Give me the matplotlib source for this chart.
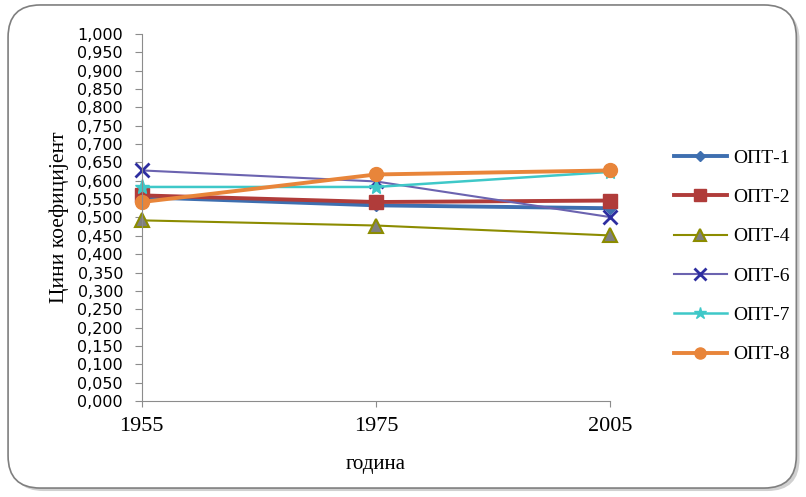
import numpy as np
import matplotlib.pyplot as plt
from matplotlib.patches import FancyBboxPatch

godine = ['1955', '1975', '2005']
serije = ['ОПТ-1', 'ОПТ-2', 'ОПТ-4', 'ОПТ-6', 'ОПТ-7', 'ОПТ-8']
opt1 = [0.555, 0.533, 0.525]
opt2 = [0.560, 0.542, 0.546]
opt4 = [0.492, 0.478, 0.451]
opt6 = [0.628, 0.598, 0.501]
opt7 = [0.583, 0.583, 0.624]
opt8 = [0.542, 0.617, 0.628]

serif = 'Liberation Serif'

fig = plt.figure(figsize=(8.06, 4.97), dpi=100)

# okvir grafika sa senkom
senka = FancyBboxPatch((0.014, 0.012), 0.978, 0.972, boxstyle='round,pad=0,rounding_size=0.04',
                       transform=fig.transFigure, facecolor='#d0d0d0', edgecolor='none', zorder=-2,
                       mutation_aspect=806/497)
okvir = FancyBboxPatch((0.010, 0.018), 0.978, 0.972, boxstyle='round,pad=0,rounding_size=0.04',
                       transform=fig.transFigure, facecolor='white', edgecolor='#7f7f7f', lw=1.2, zorder=-1,
                       mutation_aspect=806/497)
fig.patches.extend([senka, okvir])

ax = fig.add_axes([0.176, 0.193, 0.581, 0.739])
ax.set_zorder(2)
ax.patch.set_alpha(0)
x = np.arange(len(godine))

stilovi = [
    (opt1, dict(color='#3e6fb0', lw=2.8, marker='D', ms=6.5, mfc='#3e6fb0', mec='#3e6fb0')),
    (opt2, dict(color='#b03c3a', lw=2.8, marker='s', ms=10, mfc='#b03c3a', mec='#b03c3a')),
    (opt4, dict(color='#8c8c00', lw=1.5, marker='^', ms=10, mfc='#808080', mec='#8c8c00', mew=1.5)),
    (opt6, dict(color='#6b63b0', lw=1.5, marker='x', ms=10, mfc='#2e2ea0', mec='#2e2ea0', mew=2)),
    (opt7, dict(color='#3ec8c8', lw=1.8, marker='*', ms=11, mfc='#3ec8c8', mec='#3ec8c8')),
    (opt8, dict(color='#e8853a', lw=2.8, marker='o', ms=10, mfc='#e8853a', mec='#e8853a')),
]
for (vr, st), ime in zip(stilovi, serije):
    ax.plot(x, vr, label=ime, clip_on=False, **st)

ax.set_xlim(0, 2)
ax.set_ylim(0, 1)
ax.set_yticks(np.arange(0, 1.0001, 0.05))
ax.set_yticklabels([('%.3f' % v).replace('.', ',') for v in np.arange(0, 1.0001, 0.05)],
                   fontfamily='DejaVu Sans', fontsize=11.5)
ax.set_xticks(x)
ax.set_xticklabels(godine, fontfamily=serif, fontsize=16)
for s in ['top', 'right']:
    ax.spines[s].set_visible(False)
for s in ['left', 'bottom']:
    ax.spines[s].set_color('#8c8c8c')
ax.tick_params(axis='y', length=5, color='#8c8c8c', pad=8.5)
ax.tick_params(axis='x', length=4.5, color='#8c8c8c', pad=7)

ax.set_ylabel('Цини коефицијент', fontfamily=serif, fontsize=15.5, labelpad=6)
ax.set_xlabel('година', fontfamily=serif, fontsize=15, labelpad=14)

leg = fig.legend(loc='upper left', bbox_to_anchor=(0.826, 0.716), frameon=False,
                 prop={'family': serif, 'size': 14}, handlelength=2.75, handletextpad=0.3,
                 labelspacing=1.12, borderaxespad=0, markerscale=0.8)

fig.savefig('out.png', dpi=100)
